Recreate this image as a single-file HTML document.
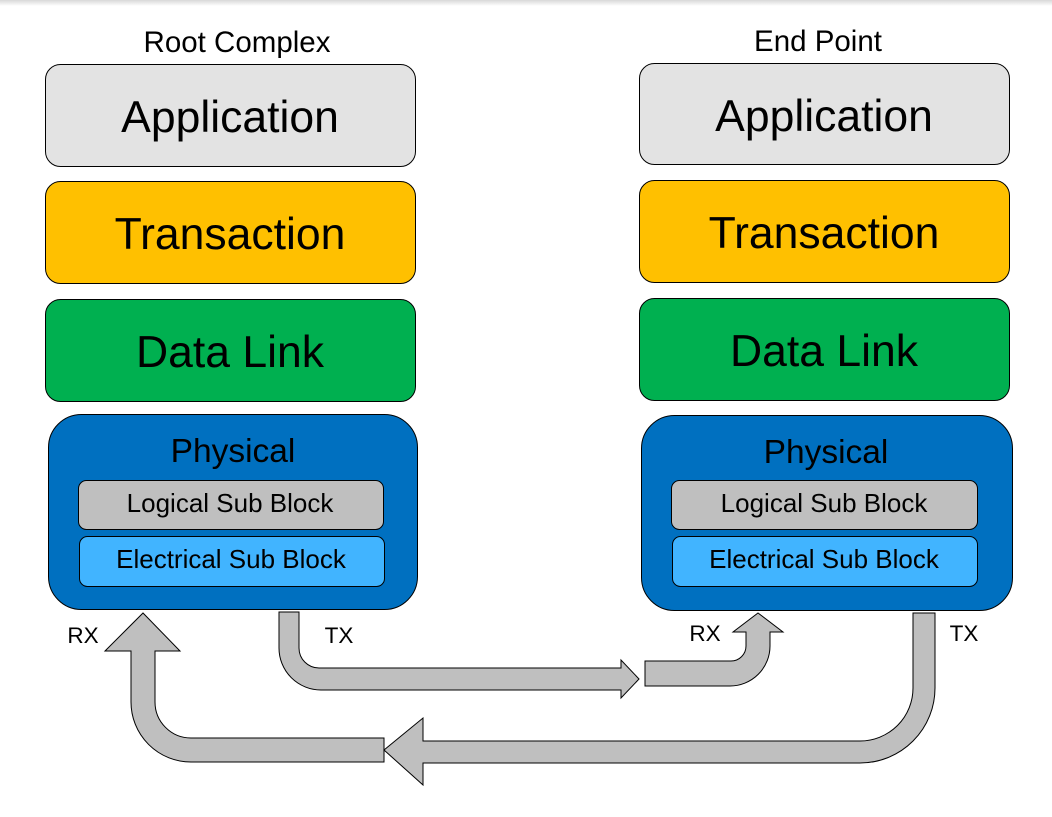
<!DOCTYPE html>
<html><head><meta charset="utf-8"><style>
html,body{margin:0;padding:0;background:#fff;}
body{width:1052px;height:817px;overflow:hidden;}
svg{display:block;font-family:"Liberation Sans",Arial,sans-serif;}
</style></head><body>
<svg width="1052" height="817" viewBox="0 0 1052 817" xmlns="http://www.w3.org/2000/svg">
<defs><linearGradient id="tg" x1="0" y1="0" x2="0" y2="1"><stop offset="0" stop-color="#d8d8d8"/><stop offset="1" stop-color="#fff"/></linearGradient></defs>
<rect x="0" y="0" width="1052" height="6" fill="url(#tg)"/>
<g stroke="#000" stroke-width="1">
<rect x="45.5" y="64.5" width="370" height="102" rx="15" fill="#e3e3e3"/>
<rect x="45.5" y="181.5" width="370" height="102" rx="15" fill="#ffc000"/>
<rect x="45.5" y="299.5" width="370" height="102" rx="15" fill="#00b050"/>
<rect x="48.5" y="414.5" width="369" height="195" rx="33" fill="#0070c0"/>
<rect x="78.5" y="480.5" width="305" height="49" rx="8" fill="#bfbfbf"/>
<rect x="79.5" y="536.5" width="305" height="50" rx="8" fill="#41b4ff"/>
<rect x="639.5" y="63.5" width="370" height="101" rx="15" fill="#e3e3e3"/>
<rect x="639.5" y="180.5" width="370" height="102" rx="15" fill="#ffc000"/>
<rect x="639.5" y="298.5" width="370" height="102" rx="15" fill="#00b050"/>
<rect x="641.5" y="415.5" width="371" height="195" rx="33" fill="#0070c0"/>
<rect x="671.5" y="480.5" width="306" height="49" rx="8" fill="#bfbfbf"/>
<rect x="672.5" y="536.5" width="305" height="50" rx="8" fill="#41b4ff"/>
<path fill="#bfbfbf" d="M279,612 H299 V648 A20,20 0 0 0 319,668 H621 V660 L639,679 L621,698 V690 H321 A42,42 0 0 1 279,648 Z"/>
<path fill="#bfbfbf" d="M384,738 H191 A36,36 0 0 1 155,702 V651 H180 L143,613 L105,651 H131 V702 A60,60 0 0 0 191,762 H384 Z"/>
<path fill="#bfbfbf" d="M384,750 L423,718 V741 H860 A53,53 0 0 0 913,688 V613 H935 V688 A75,75 0 0 1 860,763 H423 V785 Z"/>
<path fill="#bfbfbf" d="M645,661 H731 A15,15 0 0 0 746,646 V632 H733 L758,613 L783,632 H770 V646 A40,40 0 0 1 730,686 H645 Z"/>
</g>
<g fill="#000" text-anchor="middle">
<text x="237" y="52" font-size="29.5">Root Complex</text>
<text x="818" y="51" font-size="29.5">End Point</text>
<text x="230" y="132" font-size="44.5">Application</text>
<text x="230" y="249" font-size="44.5">Transaction</text>
<text x="230" y="367" font-size="44.5">Data Link</text>
<text x="233" y="462" font-size="33.5">Physical</text>
<text x="230" y="512" font-size="26">Logical Sub Block</text>
<text x="231" y="568" font-size="26">Electrical Sub Block</text>
<text x="824" y="131" font-size="44.5">Application</text>
<text x="824" y="248" font-size="44.5">Transaction</text>
<text x="824" y="366" font-size="44.5">Data Link</text>
<text x="826" y="463" font-size="33.5">Physical</text>
<text x="824" y="512" font-size="26">Logical Sub Block</text>
<text x="824" y="568" font-size="26">Electrical Sub Block</text>
<text x="83" y="643" font-size="22.5">RX</text>
<text x="339" y="643" font-size="22.5">TX</text>
<text x="705" y="641" font-size="22.5">RX</text>
<text x="964" y="641" font-size="22.5">TX</text>
</g>
</svg>
</body></html>
